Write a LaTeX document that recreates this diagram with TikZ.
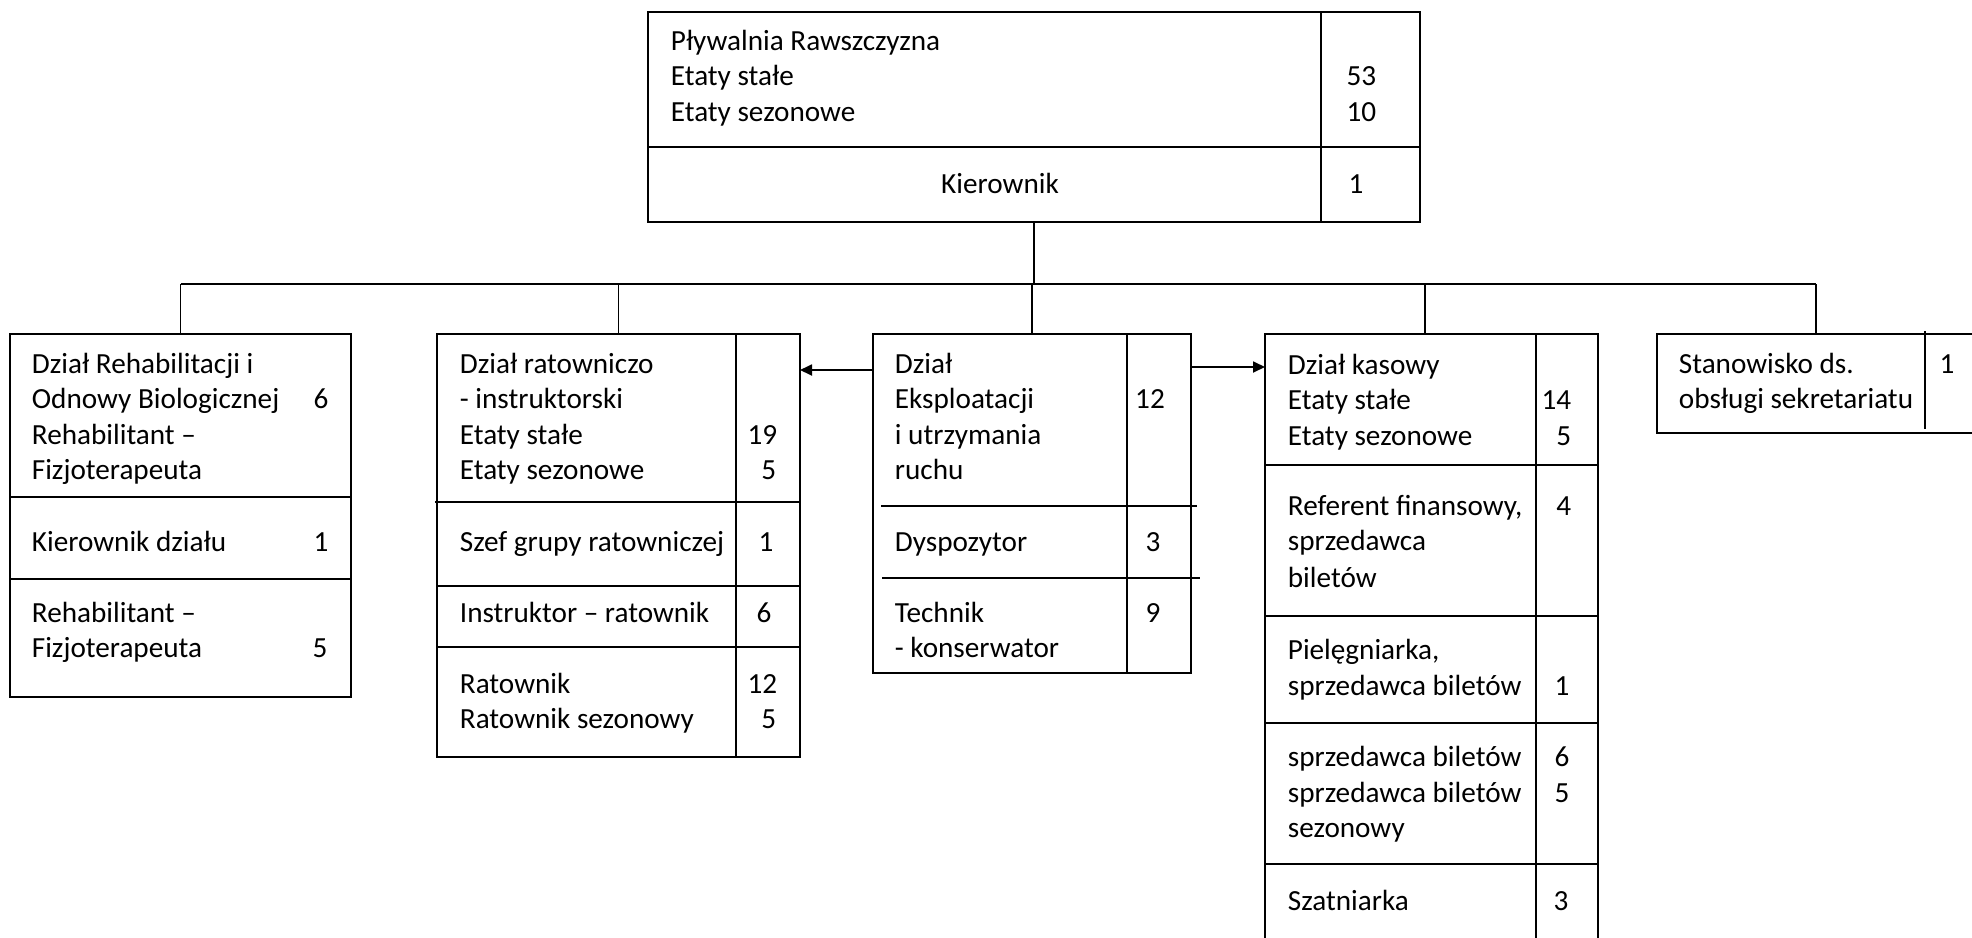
\documentclass[tikz,border=0pt]{standalone}
\usepackage{fontspec}
\setmainfont{Carlito}
\usetikzlibrary{arrows.meta}
\newcommand\diagfont{\fontsize{29.2}{35}\selectfont}
\begin{document}
\begin{tikzpicture}[x=1pt,y=-1pt,line width=1.8pt,
  box/.style={draw,rectangle,inner sep=0pt,outer sep=0pt,anchor=north west},
  txt/.style={inner sep=0pt,anchor=base west,font=\diagfont},
  num/.style={inner sep=0pt,anchor=base,font=\diagfont},
  numr/.style={inner sep=0pt,anchor=base east,font=\diagfont},
  arr/.style={-{Triangle[length=12pt,width=11pt]}}]
\useasboundingbox (0,0) rectangle (1972,937);

% boxes
\node[box,minimum width=772pt,minimum height=210pt] (top) at (648,12) {};
\node[box,minimum width=341pt,minimum height=363pt] (rehab) at (10,334) {};
\node[box,minimum width=363pt,minimum height=423pt] (ratow) at (437,334) {};
\node[box,minimum width=318pt,minimum height=339pt] (eksp) at (873,334) {};
\node[box,minimum width=333pt,minimum height=611pt] (kas) at (1265,334) {};
\node[box,minimum width=318pt,minimum height=99pt] (stan) at (1657,334) {};

% dividers
\draw (1321,12) -- (1321,222);
\draw (648,147) -- (1420,147);
\draw (10,497) -- (351,497);
\draw (10,579) -- (351,579);
\draw (736,334) -- (736,757);
\draw (435,502) -- (800,502);
\draw (437,586) -- (800,586);
\draw (437,647) -- (800,647);
\draw (1127,334) -- (1127,673);
\draw (881,506) -- (1197,506);
\draw (882,578) -- (1200,578);
\draw (1536,334) -- (1536,945);
\draw (1265,465) -- (1598,465);
\draw (1265,616) -- (1598,616);
\draw (1265,723) -- (1598,723);
\draw (1265,864) -- (1598,864);
\draw (1925,331) -- (1925,429);

% connectors
\coordinate (bus) at (0,284);
\coordinate (kasin) at (1425,334);
\draw (top.south) -- (top.south |- bus);
\draw (rehab.north |- bus) -- (stan.north |- bus);
\draw (rehab.north |- bus) -- (rehab.north);
\draw (ratow.north |- bus) -- (ratow.north);
\draw (eksp.north |- bus) -- (eksp.north);
\draw (kasin |- bus) -- (kasin);
\draw (stan.north |- bus) -- (stan.north);
\coordinate (ya) at (0,370);
\coordinate (yb) at (0,367);
\draw[arr] (eksp.west |- ya) -- (ratow.east |- ya);
\draw[arr] (eksp.east |- yb) -- (kas.west |- yb);

% top box text
\node[txt] (t1) at (670,50) {Pływalnia Rawszczyzna};
\node[txt] (t2) at (670,85) {Etaty stałe};
\node[txt] (t3) at (670,121) {Etaty sezonowe};
\node[numr] (n1) at (1377,85) {53};
\node[numr] (n2) at (1377,121) {10};
\node[num] (t4) at (1000,193) {Kierownik};
\node[num] (n3) at (1356,193) {1};

% rehab
\node[txt] (r1) at (31,373) {Dział Rehabilitacji i};
\node[txt] (r2) at (31,408) {Odnowy Biologicznej};
\node[txt] (r3) at (31,444) {Rehabilitant –};
\node[txt] (r4) at (31,479) {Fizjoterapeuta};
\node[num] (rn1) at (321,408) {6};
\node[txt] (r5) at (31,551) {Kierownik działu};
\node[num] (rn2) at (321,551) {1};
\node[txt] (r6) at (31,622) {Rehabilitant –};
\node[txt] (r7) at (31,657) {Fizjoterapeuta};
\node[num] (rn3) at (320,657) {5};

% ratow
\node[txt] (a1) at (459,373) {Dział ratowniczo};
\node[txt] (a2) at (459,408) {- instruktorski};
\node[txt] (a3) at (459,444) {Etaty stałe};
\node[txt] (a4) at (459,479) {Etaty sezonowe};
\node[numr] (an1) at (778,444) {19};
\node[numr] (an2) at (777,479) {5};
\node[txt] (a5) at (459,551) {Szef grupy ratowniczej};
\node[num] (an3) at (766,551) {1};
\node[txt] (a6) at (459,622) {Instruktor – ratownik};
\node[num] (an4) at (764,622) {6};
\node[txt] (a7) at (459,693) {Ratownik};
\node[txt] (a8) at (459,728) {Ratownik sezonowy};
\node[numr] (an5) at (778,693) {12};
\node[numr] (an6) at (777,728) {5};

% eksp
\node[txt] (e1) at (894,373) {Dział};
\node[txt] (e2) at (894,408) {Eksploatacji};
\node[txt] (e3) at (894,444) {i utrzymania};
\node[txt] (e4) at (894,479) {ruchu};
\node[num] (en1) at (1150,408) {12};
\node[txt] (e5) at (894,551) {Dyspozytor};
\node[num] (en2) at (1153,551) {3};
\node[txt] (e6) at (894,622) {Technik};
\node[txt] (e7) at (894,657) {- konserwator};
\node[num] (en3) at (1153,622) {9};

% kasowy
\node[txt] (k1) at (1287,374) {Dział kasowy};
\node[txt] (k2) at (1287,409) {Etaty stałe};
\node[txt] (k3) at (1287,445) {Etaty sezonowe};
\node[numr] (kn1) at (1572,409) {14};
\node[numr] (kn2) at (1572,445) {5};
\node[txt] (k4) at (1287,515) {Referent finansowy,};
\node[txt] (k5) at (1287,550) {sprzedawca};
\node[txt] (k6) at (1287,587) {biletów};
\node[numr] (kn3) at (1572,515) {4};
\node[txt] (k7) at (1287,659) {Pielęgniarka,};
\node[txt] (k8) at (1287,695) {sprzedawca biletów};
\node[num] (kn4) at (1562,695) {1};
\node[txt] (k9) at (1287,766) {sprzedawca biletów};
\node[txt] (k10) at (1287,802) {sprzedawca biletów};
\node[txt] (k11) at (1287,837) {sezonowy};
\node[num] (kn5) at (1562,766) {6};
\node[num] (kn6) at (1562,802) {5};
\node[txt] (k12) at (1287,910) {Szatniarka};
\node[num] (kn7) at (1561,910) {3};

% stanowisko
\node[txt] (s1) at (1678,373) {Stanowisko ds.};
\node[txt] (s2) at (1678,408) {obsługi sekretariatu};
\node[num] (sn1) at (1947,373) {1};
\end{tikzpicture}
\end{document}
